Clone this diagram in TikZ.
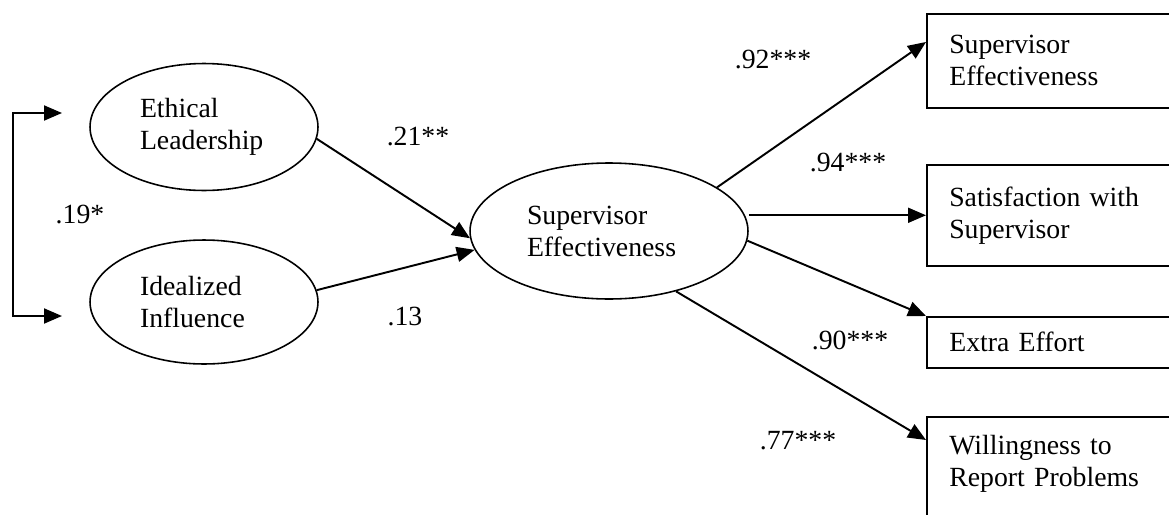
\documentclass[tikz,border=0pt]{standalone}
\usepackage{fontspec}
\setmainfont{Liberation Serif}
\usetikzlibrary{shapes,arrows.meta}
\usetikzlibrary{calc}

\begin{document}
\begin{tikzpicture}[x=0.02cm,y=-0.02cm,
	font=\fontsize{15.8}{18.2}\selectfont,
	latent/.style={draw,ellipse,line width=0.9pt,inner sep=0pt,align=left},
	observed/.style={draw,rectangle,line width=0.9pt,anchor=north west,
		minimum width=5.4cm,text width=4.5cm,inner xsep=0.44cm,align=left},
	arr/.style={line width=1.1pt,-{Triangle[length=0.36cm,width=0.3cm]}},
	arrboth/.style={line width=1.1pt,{Triangle[length=0.36cm,width=0.3cm]}-{Triangle[length=0.36cm,width=0.3cm]}},
	coef/.style={inner sep=0pt}]
	\clip (0,0) rectangle (1169,514);
	
	% latent variables
	\node[latent,text width=2.56cm,minimum width=4.56cm,minimum height=2.54cm] at (204,127) (el) {Ethical\\Leadership};
	\node[latent,text width=2.56cm,minimum width=4.56cm,minimum height=2.48cm] at (204,302) (ii) {Idealized\\Influence};
	\node[latent,text width=3.28cm,minimum width=5.56cm,minimum height=2.72cm] at (609,231) (se) {Supervisor\\Effectiveness};
	
	% indicators
	\node[observed,minimum height=1.88cm] at (926,13) (b1) {Supervisor\\Effectiveness};
	\node[observed,minimum height=2.02cm] at (926,164) (b2) {Satisfaction with\\Supervisor};
	\node[observed,minimum height=1.02cm] at (926,316) (b3) {Extra Effort};
	\node[observed,minimum height=2.4cm,execute at end node={\par\vspace*{0.5cm}}] at (926,416) (b4) {Willingness to\\Report Problems};
	
	% correlation
	\coordinate (c1) at (62,113);
	\coordinate (c2) at (62,316);
	\coordinate (k) at (13,215);
	\draw[arrboth] (c1) -| (k) |- (c2);
	\node[coef] at (80,215) (r) {.19*};
	
	% structural paths
	\draw[arr] (el.-6) -- (se.183);
	\draw[arr] (ii.6) -- (se.188);
	\node[coef] at (418,137) (p1) {.21**};
	\node[coef] at (405,317) (p2) {.13};
	
	% loadings
	\draw[arr] (se.22) -- ($(b1.north west)+(0,29)$);
	\draw[arr] (se.east |- b2.west) -- (b2.west);
	\draw[arr] (se.-4) -- (b3.north west);
	\draw[arr] (se.-42) -- ($(b4.north west)+(0,24)$);
	\node[coef] at (773,60) (l1) {.92***};
	\node[coef] at (848,163) (l2) {.94***};
	\node[coef] at (850,340) (l3) {.90***};
	\node[coef] at (798,441) (l4) {.77***};
\end{tikzpicture}
\end{document}
